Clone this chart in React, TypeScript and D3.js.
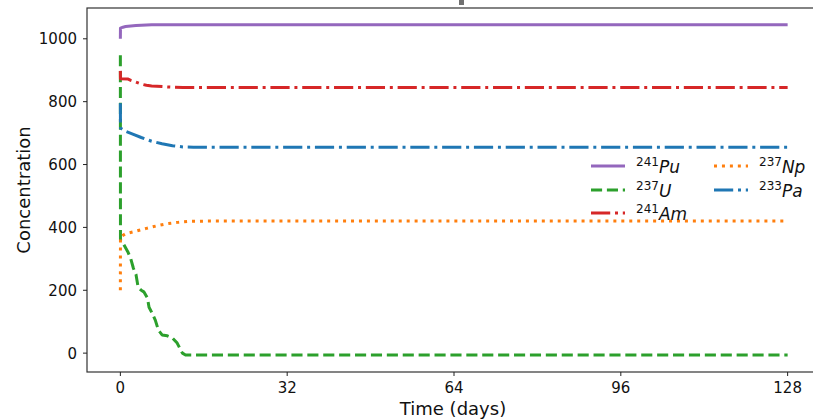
import React from "react";
import * as d3 from "d3";

const W = 813;
const H = 420;

// Data (days, concentration)
const puT = [0, 0.02, 0.5, 1, 2, 3, 4, 5, 6, 8, 128];
const puV = [1000, 1034, 1037, 1039, 1041, 1042, 1043, 1044, 1045, 1045, 1045];

const uT = [0, 0.02, 0.5, 1.5, 2, 2.5, 3, 3.4, 4, 4.5, 5.2, 5.5, 6.1, 6.7, 7.3, 8, 9, 10, 10.9, 11.9, 12.5, 128];
const uV = [948, 360, 350, 320, 300, 270, 250, 210, 200, 195, 175, 146, 127, 105, 73, 58, 55, 48, 32, 0, -6, -6];

const amT = [0, 0.02, 1.5, 2, 3, 4, 5, 6, 8, 10, 12, 128];
const amV = [898, 873, 872, 868, 862, 856, 852, 850, 848, 846, 845, 845];

const npT = [0, 0.02, 1, 3, 5, 7, 9, 11, 13, 16, 128];
const npV = [200, 370, 380, 388, 397, 405, 412, 416, 419, 420, 420];

const paT = [0, 0.02, 1, 2.5, 4, 6, 8, 10, 12, 14, 128];
const paV = [795, 716, 706, 696, 686, 674, 666, 660, 656, 655, 655];

const xTicks = [0, 32, 64, 96, 128];
const yTicks = [0, 200, 400, 600, 800, 1000];

const series = [
  { iso: "241", el: "Pu", t: puT, v: puV, color: "#9467bd", dash: "" },
  { iso: "237", el: "U", t: uT, v: uV, color: "#2ca02c", dash: "11.1,4.8" },
  { iso: "241", el: "Am", t: amT, v: amV, color: "#d62728", dash: "19.2,4.8,3,4.8" },
  { iso: "237", el: "Np", t: npT, v: npV, color: "#ff7f0e", dash: "3,4.95" },
  { iso: "233", el: "Pa", t: paT, v: paV, color: "#1f77b4", dash: "19.2,4.8,3,4.8" },
];

const FONT = "DejaVu Sans, sans-serif";

export default function App() {
  const left = 87, top = 8, bottom = 372, right = 821;
  const x = d3.scaleLinear().domain([-6.4, 134.4]).range([left, right]);
  const y = d3.scaleLinear().domain([-60, 1098]).range([bottom, top]);

  const line = d3
    .line<[number, number]>()
    .x((d) => x(d[0]))
    .y((d) => y(d[1]));

  const legendItems = [
    { s: series[0], col: 0, row: 0 },
    { s: series[1], col: 0, row: 1 },
    { s: series[2], col: 0, row: 2 },
    { s: series[3], col: 1, row: 0 },
    { s: series[4], col: 1, row: 1 },
  ];
  const colX = [591, 714];
  const rowY = [166, 190, 213];

  return (
    <svg
      width={W}
      height={H}
      style={{ position: "absolute", left: 0, top: 0, background: "#fff" }}
      fontFamily={FONT}
    >
      <rect x={0} y={0} width={W} height={H} fill="#fff" />
      <rect x={459} y={0} width={5} height={5} fill="#707070" />
      <defs>
        <clipPath id="plotclip">
          <rect x={left} y={top} width={right - left} height={bottom - top} />
        </clipPath>
      </defs>
      <g clipPath="url(#plotclip)">
        {series.map((s, i) => (
          <path
            key={i}
            d={line(s.t.map((t, j) => [t, s.v[j]] as [number, number])) || ""}
            fill="none"
            stroke={s.color}
            strokeWidth={3}
            strokeDasharray={s.dash || undefined}
            strokeLinejoin="round"
          />
        ))}
      </g>
      <rect
        x={left}
        y={top}
        width={right - left}
        height={bottom - top}
        fill="none"
        stroke="#333"
        strokeWidth={1.2}
      />
      {xTicks.map((t) => (
        <g key={t}>
          <line x1={x(t)} x2={x(t)} y1={bottom} y2={bottom + 4} stroke="#222" strokeWidth={1} />
          <text x={x(t)} y={bottom + 21} textAnchor="middle" fontSize={15} fill="#111">
            {t}
          </text>
        </g>
      ))}
      {yTicks.map((t) => (
        <g key={t}>
          <line x1={left - 4} x2={left} y1={y(t)} y2={y(t)} stroke="#222" strokeWidth={1} />
          <text x={left - 10} y={y(t) + 5.5} textAnchor="end" fontSize={15} fill="#111">
            {t}
          </text>
        </g>
      ))}
      <text x={453} y={415} textAnchor="middle" fontSize={18} fill="#111">
        Time (days)
      </text>
      <text
        transform={`translate(30,${(top + bottom) / 2}) rotate(-90)`}
        textAnchor="middle"
        fontSize={18}
        fill="#111"
      >
        Concentration
      </text>
      {legendItems.map((it, i) => {
        const lx = colX[it.col];
        const ly = rowY[it.row];
        return (
          <g key={i}>
            <line
              x1={lx}
              x2={lx + 34}
              y1={ly}
              y2={ly}
              stroke={it.s.color}
              strokeWidth={3}
              strokeDasharray={it.s.dash || undefined}
            />
            <text x={lx + 45} y={ly + 7} fontSize={17} fill="#111">
              <tspan fontSize={12} dy={-7}>
                {it.s.iso}
              </tspan>
              <tspan fontStyle="italic" dy={7}>
                {it.s.el}
              </tspan>
            </text>
          </g>
        );
      })}
    </svg>
  );
}
